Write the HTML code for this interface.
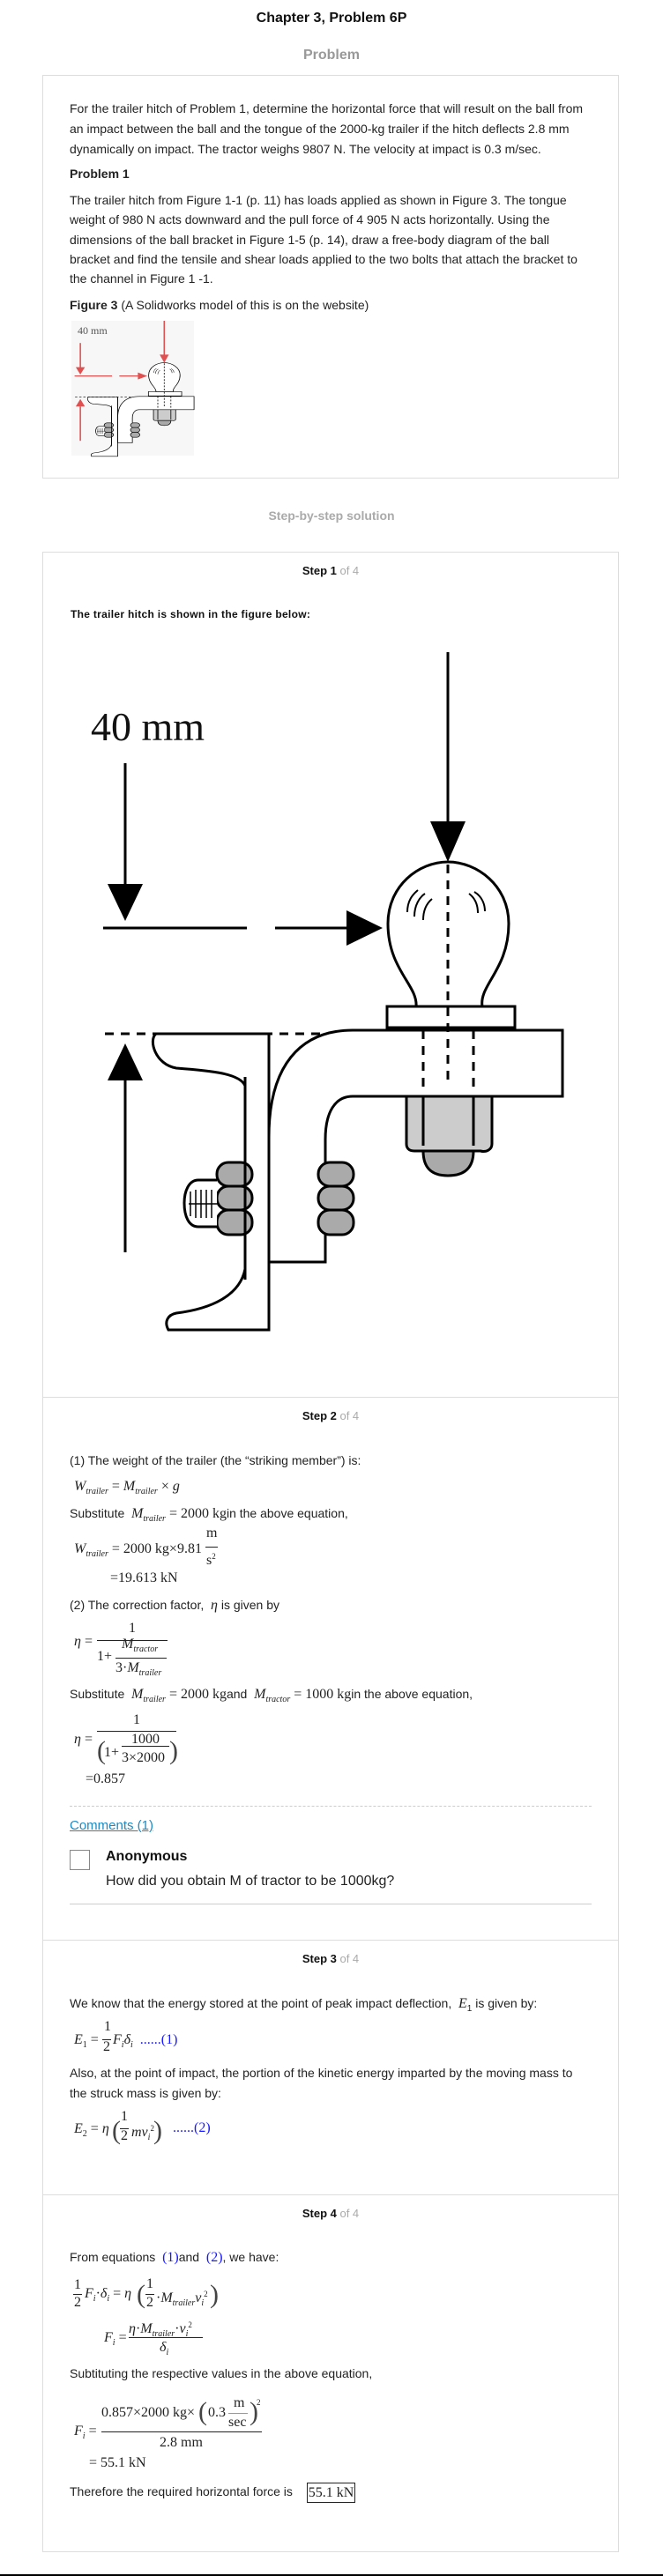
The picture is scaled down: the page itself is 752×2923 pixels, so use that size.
<!DOCTYPE html>
<html><head><meta charset="utf-8">
<style>
*{margin:0;padding:0;box-sizing:border-box}
body{width:752px;height:2923px;background:#fff;position:relative;font-family:"Liberation Sans",Arial,sans-serif;color:#222;overflow:hidden}
.a{position:absolute;white-space:nowrap;line-height:20px}
.t{font-size:14px}
.m{font-family:"Liberation Serif",serif;font-size:16px}
.i{font-style:italic}
sub{font-size:10px;font-style:italic;vertical-align:-4px}
sup{font-size:9px;vertical-align:6px}
.box{position:absolute;border:1px solid #ddd}
.sep{position:absolute;left:48px;width:654px;height:1px;background:#ddd}
.hdr{position:absolute;left:48px;width:654px;text-align:center;font-size:13px;font-weight:bold;line-height:20px;color:#111}
.hdr span{color:#aaa;font-weight:normal}
.fl{position:absolute;height:1px;background:#222}
.b{color:#1a1aff}
</style></head><body>

<div class="a" style="left:0;width:752px;text-align:center;top:11px;font-size:16px;font-weight:bold;color:#111">Chapter 3, Problem 6P</div>
<div class="a" style="left:0;width:752px;text-align:center;top:53px;font-size:16px;font-weight:bold;color:#999">Problem</div>

<div class="box" style="left:48px;top:85px;width:654px;height:458px"></div>
<div class="a t" style="left:79px;top:112px;line-height:23px;white-space:normal;width:620px">For the trailer hitch of Problem 1, determine the horizontal force that will result on the ball from<br>an impact between the ball and the tongue of the 2000-kg trailer if the hitch deflects 2.8 mm<br>dynamically on impact. The tractor weighs 9807 N. The velocity at impact is 0.3 m/sec.</div>
<div class="a t" style="left:79px;top:187px;font-weight:bold">Problem 1</div>
<div class="a t" style="left:79px;top:216px;line-height:22.3px;white-space:normal;width:620px">The trailer hitch from Figure 1-1 (p. 11) has loads applied as shown in Figure 3. The tongue<br>weight of 980 N acts downward and the pull force of 4 905 N acts horizontally. Using the<br>dimensions of the ball bracket in Figure 1-5 (p. 14), draw a free-body diagram of the ball<br>bracket and find the tensile and shear loads applied to the two bolts that attach the bracket to<br>the channel in Figure 1 -1.</div>
<div class="a t" style="left:79px;top:336px"><b>Figure 3</b> (A Solidworks model of this is on the website)</div>
<div class="a" style="left:81px;top:364px;width:139px;height:153px;background:#f7f7f7"></div>
<div class="a m" style="left:88px;top:365px;font-size:12px;color:#555">40 mm</div>

<div class="a" style="left:0;width:752px;text-align:center;top:575px;font-size:14px;font-weight:bold;color:#aaa">Step-by-step solution</div>

<div class="box" style="left:48px;top:626px;width:654px;height:2270px"></div>
<div class="sep" style="top:1585px"></div>
<div class="sep" style="top:2201px"></div>
<div class="sep" style="top:2490px"></div>

<div class="hdr" style="top:638px">Step 1 <span>of 4</span></div>
<div class="a" style="left:80px;top:687px;font-size:12px;font-weight:bold;color:#111;letter-spacing:0.3px">The trailer hitch is shown in the figure below:</div>
<div class="a" style="left:103px;top:800px;font-family:'Liberation Serif',serif;font-size:46px;line-height:50px;color:#111">40 mm</div>

<svg class="a" style="left:0;top:0" width="752" height="1600" viewBox="0 0 752 1600">
<defs>
<g id="body" stroke="#000" stroke-width="3" fill="#fff">
 <path d="M177,1173 L305,1173 L305,1509 L191,1509 C186,1500 190,1492 200,1490 C240,1485 272,1470 278,1440 L278,1232 C272,1218 240,1215 200,1212 C176,1208 168,1180 177,1173 Z"/>
 <path d="M305,1432 L305,1290 C305,1210 340,1169 400,1169 L638,1169 L638,1244 L400,1244 C380,1244 369,1262 369,1293 L369,1432 Z"/>
 <path d="M461,1244 L558,1244 L558,1298 C558,1304 552,1308 545,1306 L470,1306 C463,1306 461,1302 461,1298 Z" fill="#ccc"/>
 <path d="M480,1306 C480,1330 495,1334 508,1334 C521,1334 537,1330 537,1306 Z" fill="#aaa"/>
 <line x1="480" y1="1244" x2="480" y2="1300"/><line x1="537" y1="1244" x2="537" y2="1300"/>
 <rect x="439" y="1142" width="145" height="24"/>
 <path d="M472,1142 C474,1118 440,1100 440,1048 C440,1005 475,978 508,978 C541,978 577,1005 577,1048 C577,1100 543,1118 547,1142 Z"/>
 <path d="M462,1035 C462,1022 468,1015 474,1010 M470,1040 C470,1027 476,1018 482,1014 M480,1044 C480,1032 484,1025 490,1020 M532,1014 C540,1020 542,1028 542,1036 M538,1012 C548,1018 550,1028 550,1034" fill="none" stroke-width="2"/>
 <rect x="246" y="1319" width="40" height="27" rx="13" fill="#aaa"/>
 <rect x="246" y="1346" width="40" height="27" rx="13" fill="#aaa"/>
 <rect x="246" y="1373" width="40" height="28" rx="13" fill="#aaa"/>
 <rect x="361" y="1319" width="40" height="27" rx="13" fill="#aaa"/>
 <rect x="361" y="1346" width="40" height="27" rx="13" fill="#aaa"/>
 <rect x="361" y="1373" width="40" height="28" rx="13" fill="#aaa"/>
 <path d="M246,1339 L225,1339 C214,1339 209,1352 209,1365 C209,1380 214,1392 225,1392 L246,1392" />
 <path d="M216,1352 V1380 M222,1350 V1382 M228,1350 V1382 M234,1350 V1382 M240,1350 V1382 M214,1366 H246" stroke-width="1.5" fill="none"/>
 <path d="M278,1222 L278,1452 M305,1173 L305,1432" fill="none"/>
 <path d="M508,981 V1233 M480,1169 V1241 M537,1169 V1241 M119,1173 H367" stroke-dasharray="10,8" fill="none"/>
</g>
<g id="arr">
 <line x1="508" y1="740" x2="508" y2="935" fill="none"/>
 <polygon points="488,932 528,932 508,978" stroke="none"/>
 <line x1="142" y1="866" x2="142" y2="1005" fill="none"/>
 <polygon points="122,1003 162,1003 142,1045" stroke="none"/>
 <line x1="117" y1="1053" x2="280" y2="1053" fill="none"/>
 <line x1="312" y1="1053" x2="395" y2="1053" fill="none"/>
 <polygon points="393,1033 393,1073 434,1053" stroke="none"/>
 <polygon points="122,1226 162,1226 142,1184" stroke="none"/>
 <line x1="142" y1="1226" x2="142" y2="1421" fill="none"/>
</g>
</defs>
<use href="#body"/>
<use href="#arr" stroke="#000" fill="#000" stroke-width="3"/>
<g transform="translate(54.2,216) scale(0.26,0.2)">
 <use href="#body"/>
 <use href="#arr" stroke="#e05050" fill="#e05050" stroke-width="6"/>
</g>
</svg>

<!-- Step 2 -->
<div class="hdr" style="top:1597px">Step 2 <span>of 4</span></div>
<div class="a t" style="left:79px;top:1647px">(1) The weight of the trailer (the “striking member”) is:</div>
<div class="a m" style="left:84px;top:1677px"><span class="i">W</span><sub>trailer</sub> = <span class="i">M</span><sub>trailer</sub> × <span class="i">g</span></div>
<div class="a t" style="left:79px;top:1707px">Substitute &nbsp;<span class="m"><span class="i">M</span><sub>trailer</sub> = 2000 kg</span>in the above equation,</div>
<div class="a m" style="left:84px;top:1748px"><span class="i">W</span><sub>trailer</sub> = 2000 kg×9.81</div>
<div class="a m" style="left:234px;top:1730px">m</div>
<div class="fl" style="left:233px;top:1755px;width:14px"></div>
<div class="a m" style="left:234px;top:1756px">s<sup>2</sup></div>
<div class="a m" style="left:125px;top:1781px">=19.613 kN</div>
<div class="a t" style="left:79px;top:1811px">(2) The correction factor, &nbsp;<span class="m i">η</span> is given by</div>
<div class="a m" style="left:84px;top:1853px"><span class="i">η</span> =</div>
<div class="a m" style="left:146px;top:1838px">1</div>
<div class="fl" style="left:110px;top:1861px;width:80px"></div>
<div class="a m" style="left:110px;top:1870px">1+</div>
<div class="a m" style="left:138px;top:1856px"><span class="i">M</span><sub>tractor</sub></div>
<div class="fl" style="left:131px;top:1881px;width:58px"></div>
<div class="a m" style="left:131px;top:1883px">3·<span class="i">M</span><sub>trailer</sub></div>
<div class="a t" style="left:79px;top:1912px">Substitute &nbsp;<span class="m"><span class="i">M</span><sub>trailer</sub> = 2000 kg</span>and &nbsp;<span class="m"><span class="i">M</span><sub>tractor</sub> = 1000 kg</span>in the above equation,</div>
<div class="a m" style="left:84px;top:1964px"><span class="i">η</span> =</div>
<div class="a m" style="left:151px;top:1942px">1</div>
<div class="fl" style="left:110px;top:1964px;width:90px"></div>
<div class="a m" style="left:110px;top:1967px;font-size:30px;line-height:40px;color:#444">(</div>
<div class="a m" style="left:192px;top:1967px;font-size:30px;line-height:40px;color:#444">)</div>
<div class="a m" style="left:118px;top:1979px">1+</div>
<div class="a m" style="left:149px;top:1964px">1000</div>
<div class="fl" style="left:138px;top:1981px;width:54px"></div>
<div class="a m" style="left:138px;top:1985px">3×2000</div>
<div class="a m" style="left:97px;top:2009px">=0.857</div>
<div style="position:absolute;left:79px;top:2049px;width:592px;border-top:1px dashed #ccc"></div>
<div class="a" style="left:79px;top:2062px;font-size:15px;color:#1a8ac6;text-decoration:underline">Comments (1)</div>
<div style="position:absolute;left:79px;top:2099px;width:23px;height:23px;border:1px solid #888"></div>
<div class="a" style="left:120px;top:2097px;font-size:16px;font-weight:bold;color:#111">Anonymous</div>
<div class="a" style="left:120px;top:2125px;font-size:16px;color:#222">How did you obtain M of tractor to be 1000kg?</div>
<div style="position:absolute;left:79px;top:2160px;width:592px;height:1px;background:#ccc"></div>

<!-- Step 3 -->
<div class="hdr" style="top:2213px">Step 3 <span>of 4</span></div>
<div class="a t" style="left:79px;top:2263px">We know that the energy stored at the point of peak impact deflection, &nbsp;<span class="m i">E</span><sub style="font-style:normal">1</sub> is given by:</div>
<div class="a m" style="left:84px;top:2305px"><span class="i">E</span><sub style="font-style:normal">1</sub> =</div>
<div class="a m" style="left:118px;top:2290px">1</div>
<div class="fl" style="left:116px;top:2314px;width:10px"></div>
<div class="a m" style="left:117px;top:2313px">2</div>
<div class="a m" style="left:128px;top:2305px"><span class="i">F<sub>i</sub>δ<sub>i</sub></span> &nbsp;<span class="b">......(1)</span></div>
<div class="a t" style="left:79px;top:2342px">Also, at the point of impact, the portion of the kinetic energy imparted by the moving mass to</div>
<div class="a t" style="left:79px;top:2365px">the struck mass is given by:</div>
<div class="a m" style="left:84px;top:2406px"><span class="i">E</span><sub style="font-style:normal">2</sub> = <span class="i">η</span></div>
<div class="a m" style="left:127px;top:2398px;font-size:30px;line-height:40px;color:#444">(</div>
<div class="a m" style="left:174px;top:2398px;font-size:30px;line-height:40px;color:#444">)</div>
<div class="a m" style="left:137px;top:2392px">1</div>
<div class="fl" style="left:136px;top:2415px;width:10px"></div>
<div class="a m" style="left:137px;top:2414px">2</div>
<div class="a m" style="left:149px;top:2405px"><span class="i">mv<sub>i</sub></span><sup>2</sup></div>
<div class="a m b" style="left:196px;top:2405px">......(2)</div>

<!-- Step 4 -->
<div class="hdr" style="top:2502px">Step 4 <span>of 4</span></div>
<div class="a t" style="left:79px;top:2551px">From equations &nbsp;<span class="m b">(1)</span>and &nbsp;<span class="m b">(2)</span>, we have:</div>
<div class="a m" style="left:84px;top:2583px">1</div>
<div class="fl" style="left:83px;top:2603px;width:10px"></div>
<div class="a m" style="left:84px;top:2603px">2</div>
<div class="a m" style="left:96px;top:2593px"><span class="i">F<sub>i</sub></span>·<span class="i">δ<sub>i</sub></span> = <span class="i">η</span></div>
<div class="a m" style="left:155px;top:2584px;font-size:30px;line-height:40px;color:#444">(</div>
<div class="a m" style="left:238px;top:2584px;font-size:30px;line-height:40px;color:#444">)</div>
<div class="a m" style="left:166px;top:2582px">1</div>
<div class="fl" style="left:165px;top:2603px;width:10px"></div>
<div class="a m" style="left:166px;top:2603px">2</div>
<div class="a m" style="left:177px;top:2593px">·<span class="i">M</span><sub>trailer</sub><span class="i">v<sub>i</sub></span><sup>2</sup></div>
<div class="a m" style="left:118px;top:2643px"><span class="i">F<sub>i</sub></span> =</div>
<div class="a m" style="left:146px;top:2628px"><span class="i">η</span>·<span class="i">M</span><sub>trailer</sub>·<span class="i">v<sub>i</sub></span><sup>2</sup></div>
<div class="fl" style="left:146px;top:2652px;width:84px"></div>
<div class="a m" style="left:181px;top:2654px"><span class="i">δ<sub>i</sub></span></div>
<div class="a t" style="left:79px;top:2683px">Subtituting the respective values in the above equation,</div>
<div class="a m" style="left:84px;top:2749px"><span class="i">F<sub>i</sub></span> =</div>
<div class="a m" style="left:115px;top:2728px">0.857×2000 kg×</div>
<div class="a m" style="left:225px;top:2717px;font-size:30px;line-height:40px;color:#444">(</div>
<div class="a m" style="left:283px;top:2717px;font-size:30px;line-height:40px;color:#444">)</div>
<div class="a m" style="left:291px;top:2716px;font-size:9px">2</div>
<div class="a m" style="left:236px;top:2728px">0.3</div>
<div class="a m" style="left:265px;top:2717px">m</div>
<div class="fl" style="left:259px;top:2738px;width:22px;background:#999"></div>
<div class="a m" style="left:259px;top:2739px">sec</div>
<div class="fl" style="left:115px;top:2759px;width:182px"></div>
<div class="a m" style="left:181px;top:2762px">2.8 mm</div>
<div class="a m" style="left:101px;top:2785px">= 55.1 kN</div>
<div class="a t" style="left:79px;top:2817px">Therefore the required horizontal force is</div>
<div class="a m" style="left:348px;top:2817px;width:55px;height:23px;border:1px solid #222;line-height:21px;text-align:center">55.1 kN</div>

<div style="position:absolute;left:0;top:2921px;width:752px;height:2px;background:#000"></div>
</body></html>
